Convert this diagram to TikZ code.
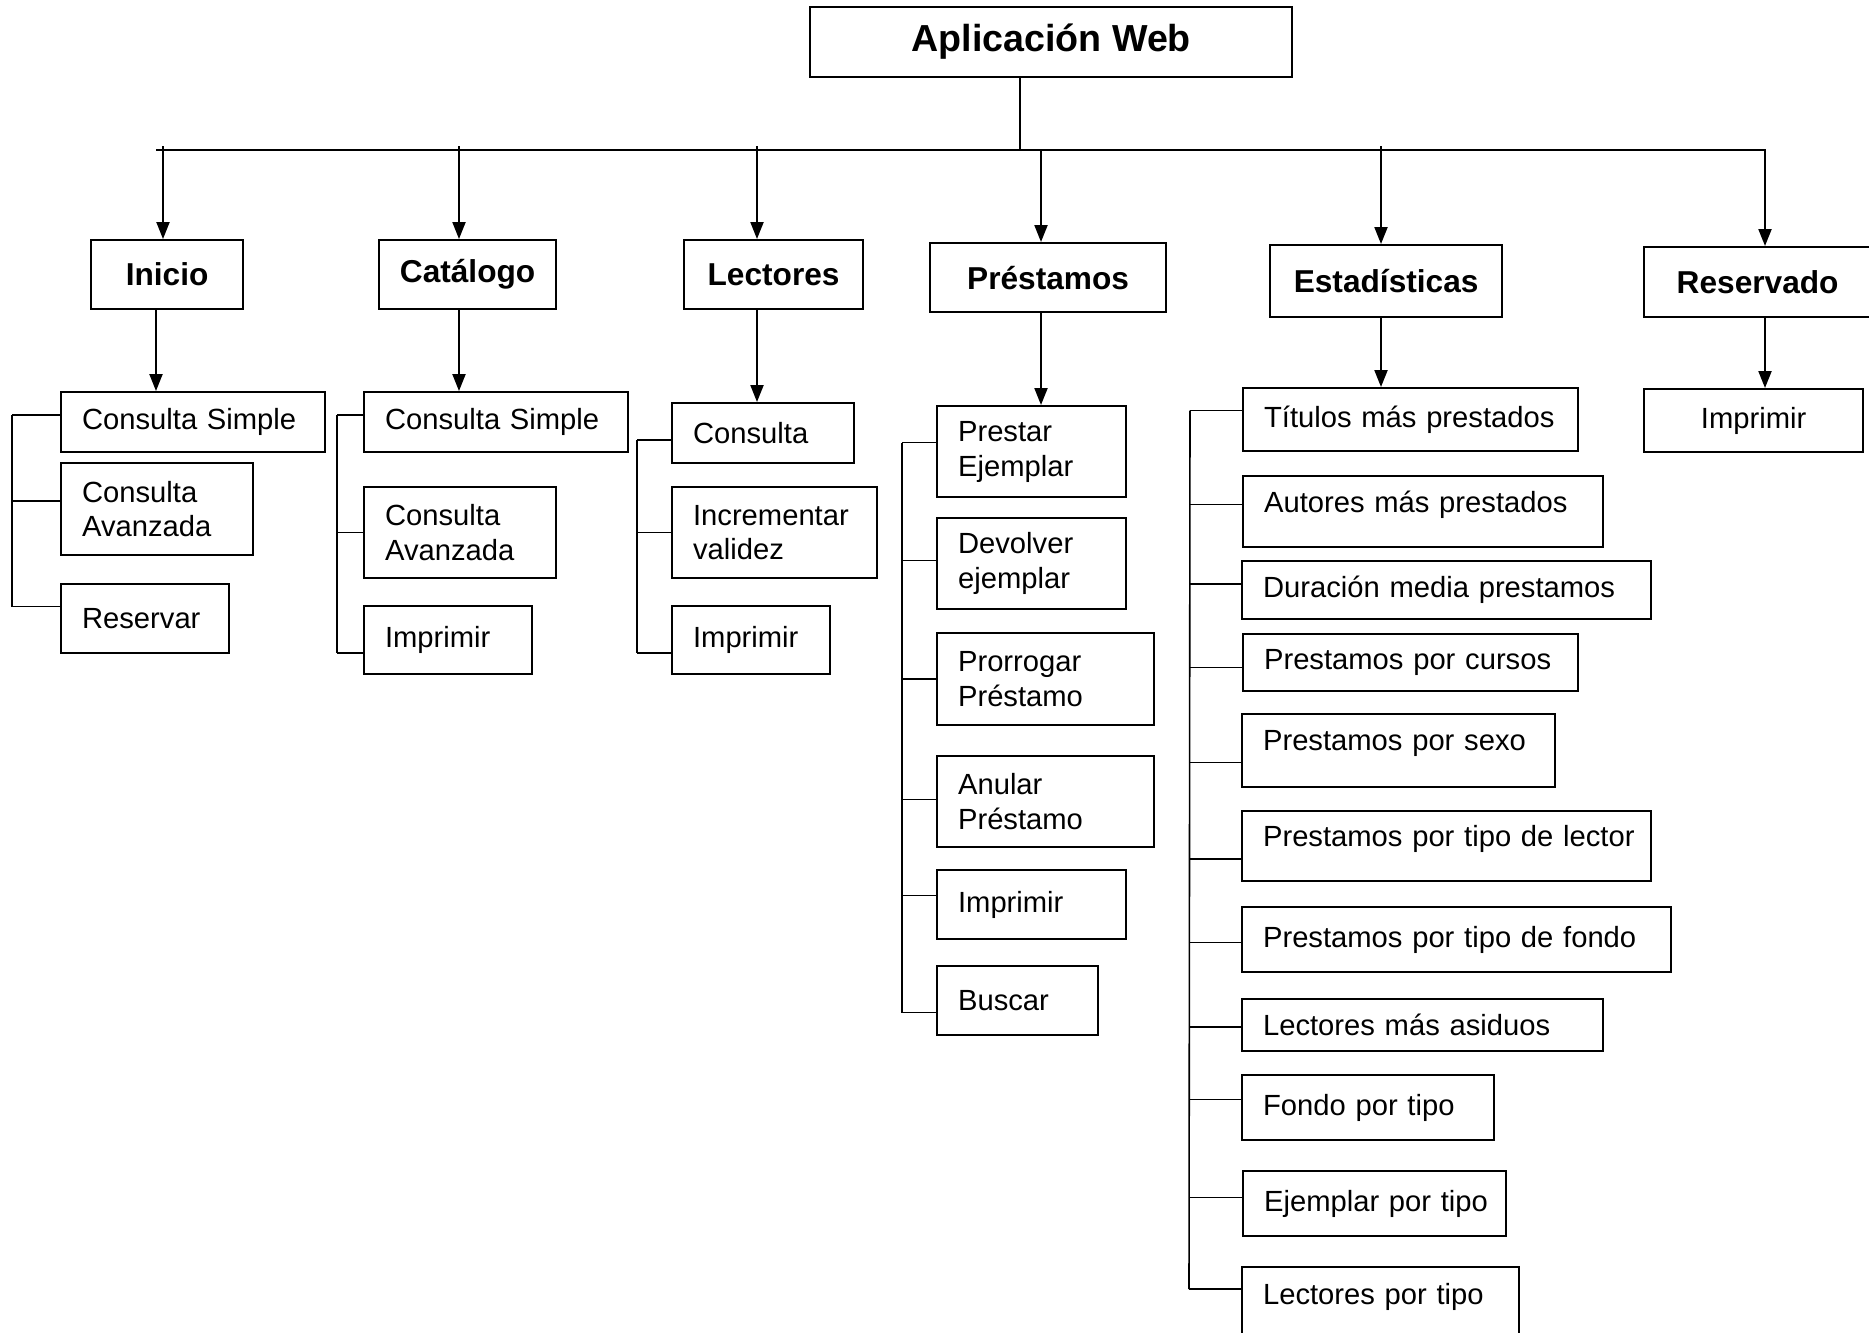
\documentclass[tikz,border=0pt]{standalone}
\usepackage{fontspec}
\setmainfont{Liberation Sans}
\usetikzlibrary{arrows.meta}

\tikzset{
  cell/.style={draw, line width=0.6pt, anchor=north west, inner sep=0pt},
  titlebox/.style={cell, font=\fontsize{10.7}{13}\selectfont\bfseries},
  headbox/.style={cell, font=\fontsize{9}{11}\selectfont\bfseries},
  itembox/.style={cell, font=\fontsize{8.3}{9.9}\selectfont, align=left,
    execute at begin node={\leftskip=0.21cm\relax}},
  raised/.style={text depth=0.2cm},
  link/.style={line width=0.6pt},
  arr/.style={link, -{Triangle[length=0.17cm,width=0.13cm]}},
  brk/.style={line width=0.45pt}
}

\begin{document}
\begin{tikzpicture}[x=0.01cm, y=-0.01cm]
        \useasboundingbox (0,0) rectangle (1869,1332);

        % raiz
        \node[titlebox, minimum width=4.82cm, minimum height=0.70cm] (app) at (809,6) {Aplicación Web};

        % modulos
        \node[headbox, minimum width=1.52cm, minimum height=0.69cm] (hIni) at (90,239) {Inicio};
        \node[headbox, minimum width=1.77cm, minimum height=0.69cm] (hCat) at (378,239) {Catálogo};
        \node[headbox, minimum width=1.79cm, minimum height=0.69cm] (hLec) at (683,239) {Lectores};
        \node[headbox, minimum width=2.36cm, minimum height=0.69cm] (hPre) at (929,242) {Préstamos};
        \node[headbox, minimum width=2.32cm, minimum height=0.72cm] (hEst) at (1269,244) {Estadísticas};
        \node[headbox, minimum width=2.27cm, minimum height=0.70cm] (hRes) at (1643,246) {Reservado};

        % Inicio
        \node[itembox, text width=2.64cm, minimum height=0.60cm] (i1) at (60,391) {Consulta Simple};
        \node[itembox, text width=1.92cm, minimum height=0.92cm] (i2) at (60,462) {Consulta\\Avanzada};
        \node[itembox, text width=1.68cm, minimum height=0.69cm] (i3) at (60,583) {Reservar};

        % Catalogo
        \node[itembox, text width=2.64cm, minimum height=0.60cm] (c1) at (363,391) {Consulta Simple};
        \node[itembox, text width=1.92cm, minimum height=0.91cm] (c2) at (363,486) {Consulta\\Avanzada};
        \node[itembox, text width=1.68cm, minimum height=0.68cm] (c3) at (363,605) {Imprimir};

        % Lectores
        \node[itembox, text width=1.82cm, minimum height=0.60cm] (l1) at (671,402) {Consulta};
        \node[itembox, text width=2.05cm, minimum height=0.91cm] (l2) at (671,486) {Incrementar\\validez};
        \node[itembox, text width=1.58cm, minimum height=0.68cm] (l3) at (671,605) {Imprimir};

        % Prestamos
        \node[itembox, text width=1.89cm, minimum height=0.91cm] (p1) at (936,405) {Prestar\\Ejemplar};
        \node[itembox, text width=1.89cm, minimum height=0.91cm] (p2) at (936,517) {Devolver\\ejemplar};
        \node[itembox, text width=2.17cm, minimum height=0.92cm] (p3) at (936,632) {Prorrogar\\Préstamo};
        \node[itembox, text width=2.17cm, minimum height=0.91cm] (p4) at (936,755) {Anular\\Préstamo};
        \node[itembox, text width=1.89cm, minimum height=0.69cm] (p5) at (936,869) {Imprimir};
        \node[itembox, text width=1.61cm, minimum height=0.69cm] (p6) at (936,965) {Buscar};

        % Estadisticas
        \node[itembox, text width=3.35cm, minimum height=0.63cm] (e1) at (1242,387) {Títulos más prestados};
        \node[itembox, raised, text width=3.60cm, minimum height=0.71cm] (e2) at (1242,475) {Autores más prestados};
        \node[itembox, text width=4.09cm, minimum height=0.58cm] (e3) at (1241,560) {Duración media prestamos};
        \node[itembox, text width=3.35cm, minimum height=0.57cm] (e4) at (1242,633) {Prestamos por cursos};
        \node[itembox, raised, text width=3.13cm, minimum height=0.73cm] (e5) at (1241,713) {Prestamos por sexo};
        \node[itembox, raised, text width=4.09cm, minimum height=0.70cm] (e6) at (1241,810) {Prestamos por tipo de lector};
        \node[itembox, text width=4.29cm, minimum height=0.65cm] (e7) at (1241,906) {Prestamos por tipo de fondo};
        \node[itembox, text width=3.61cm, minimum height=0.52cm] (e8) at (1241,998) {Lectores más asiduos};
        \node[itembox, text width=2.52cm, minimum height=0.65cm] (e9) at (1241,1074) {Fondo por tipo};
        \node[itembox, text width=2.63cm, minimum height=0.65cm] (e10) at (1242,1170) {Ejemplar por tipo};
        \node[itembox, raised, text width=2.77cm, minimum height=0.74cm] (e11) at (1241,1266) {Lectores por tipo};

        % Reservado
        \node[cell, font=\fontsize{8.3}{9.9}\selectfont, minimum width=2.19cm, minimum height=0.63cm] (r1) at (1643,388) {Imprimir};

        % barra superior
        \coordinate (root) at (1020,150);
        \coordinate (busL) at (156,150);
        \coordinate (busR) at (1765,150);
        \coordinate (aCat) at (459,146);
        \coordinate (aLec) at (757,146);
        \coordinate (aPre) at (1041,150);
        \coordinate (aEst) at (1381,146);
        \draw[link] (app.south -| root) -- (root);
        \draw[arr] (busL) -- (busR) -- (busR |- hRes.north);
        \draw[arr] (163,146) coordinate (aIni) -- (aIni |- hIni.north);
        \foreach \a/\h in {aCat/hCat, aLec/hLec, aPre/hPre, aEst/hEst}
            \draw[arr] (\a) -- (\a |- \h.north);
        \foreach \a/\h/\c in {busL/hIni/i1, aCat/hCat/c1, aLec/hLec/l1, aPre/hPre/p1, aEst/hEst/e1, busR/hRes/r1}
            \draw[arr] (\a |- \h.south) -- (\a |- \c.north);

        % corchetes
        \foreach \n/\d in {i1/0.07, i2/0.08, i3/0.12}
            \draw[brk] ([yshift=\d cm]\n.west) -- ++(-48,0) coordinate (t\n);
        \draw[brk] (ti1) -- (ti3);
        \foreach \n/\d in {c1/0.07, c2/0, c3/-0.13}
            \draw[brk] ([yshift=\d cm]\n.west) -- ++(-26,0) coordinate (t\n);
        \draw[brk] (tc1) -- (tc3);
        \foreach \n/\d in {l1/-0.07, l2/0, l3/-0.13}
            \draw[brk] ([yshift=\d cm]\n.west) -- ++(-34,0) coordinate (t\n);
        \draw[brk] (tl1) -- (tl3);
        \foreach \n/\d in {p1/0.09, p2/0.03, p3/0, p4/0.02, p5/0.09, p6/-0.12}
            \draw[brk] ([yshift=\d cm]\n.west) -- ++(-34,0) coordinate (t\n);
        \draw[brk] (tp1) -- (tp6);
        \foreach \n/\d in {e1/0.09, e2/0.07, e3/0.06, e4/-0.05, e5/-0.12, e6/-0.13, e7/-0.03, e8/-0.02, e9/0.08, e10/0.06, e11/0.15}
            \draw[brk] ([yshift=\d cm]\n.west) -- ++(-52,0) coordinate (t\n);
        \draw[brk] (te1) -- (te11);
\end{tikzpicture}
\end{document}
